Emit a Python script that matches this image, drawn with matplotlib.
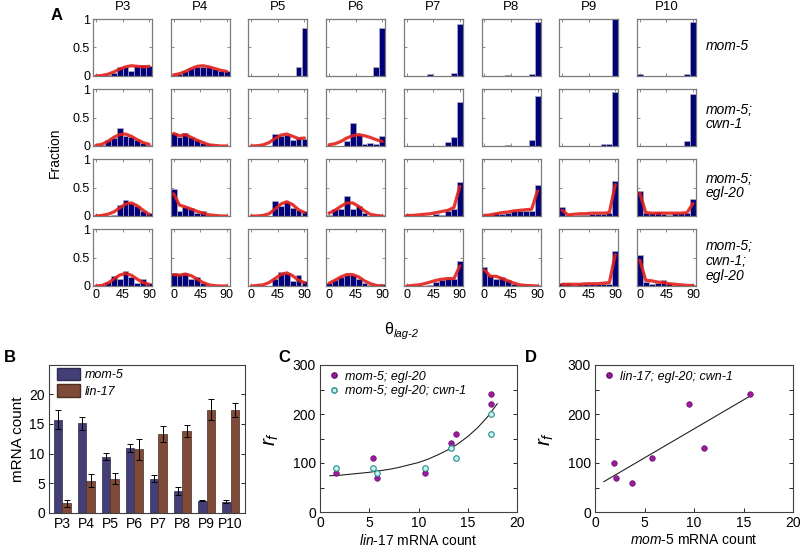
import numpy as np
import matplotlib
matplotlib.use('Agg')
import matplotlib.pyplot as plt
from matplotlib.patches import Patch
from matplotlib.lines import Line2D

plt.rcParams['font.family'] = ['Liberation Sans', 'DejaVu Sans']
plt.rcParams['mathtext.fontset'] = 'custom'
plt.rcParams['mathtext.rm'] = 'Liberation Sans'
plt.rcParams['mathtext.it'] = 'Liberation Sans:italic'

# ---------------- data ----------------
positions = ['P3', 'P4', 'P5', 'P6', 'P7', 'P8', 'P9', 'P10']
genotypes = ['mom-5', 'mom-5;\ncwn-1', 'mom-5;\negl-20', 'mom-5;\ncwn-1;\negl-20']
angle_bins = [0, 10, 20, 30, 40, 50, 60, 70, 80, 90]

frac_mom5 = [
    [0, 0, 0.01, 0.05, 0.15, 0.15, 0.09, 0.17, 0.20, 0.18],
    [0.02, 0.04, 0.08, 0.14, 0.16, 0.16, 0.16, 0.13, 0.09, 0.09],
    [0, 0, 0, 0, 0, 0, 0, 0, 0.16, 0.84],
    [0, 0, 0, 0, 0, 0, 0, 0, 0.16, 0.84],
    [0, 0, 0, 0, 0.03, 0, 0, 0, 0.06, 0.91],
    [0, 0, 0, 0, 0.02, 0, 0, 0, 0.03, 0.95],
    [0, 0, 0, 0, 0, 0, 0, 0, 0, 1.0],
    [0.03, 0, 0, 0, 0, 0, 0, 0, 0.03, 0.94],
]
fit_mom5 = [
    [0.0, 0.01, 0.03, 0.07, 0.12, 0.16, 0.18, 0.17, 0.16, 0.17],
    [0.02, 0.04, 0.08, 0.13, 0.17, 0.18, 0.16, 0.13, 0.10, 0.08],
    None, None, None, None, None, None,
]
frac_mom5_cwn1 = [
    [0, 0.02, 0.10, 0.14, 0.32, 0.17, 0.15, 0.10, 0.06, 0.02],
    [0.23, 0.16, 0.22, 0.16, 0.11, 0.06, 0.03, 0, 0, 0],
    [0, 0, 0, 0, 0.21, 0.18, 0.20, 0.11, 0.14, 0.13],
    [0, 0, 0, 0.08, 0.40, 0.20, 0.03, 0.05, 0.04, 0.18],
    [0, 0, 0, 0, 0, 0, 0, 0.07, 0.15, 0.78],
    [0, 0, 0, 0, 0.02, 0, 0, 0, 0.11, 0.87],
    [0, 0, 0, 0, 0, 0, 0, 0.03, 0.03, 0.95],
    [0, 0, 0, 0, 0, 0, 0, 0, 0.08, 0.91],
]
fit_mom5_cwn1 = [
    [0.01, 0.03, 0.08, 0.15, 0.20, 0.21, 0.17, 0.11, 0.06, 0.03],
    [0.22, 0.18, 0.20, 0.15, 0.10, 0.06, 0.02, 0.01, 0, 0],
    [0, 0.005, 0.02, 0.06, 0.13, 0.19, 0.21, 0.17, 0.13, 0.14],
    [0.02, 0.04, 0.08, 0.14, 0.18, 0.20, 0.18, 0.15, 0.11, 0.08],
    None, None, None, None,
]
frac_mom5_egl20 = [
    [0, 0, 0, 0.02, 0.20, 0.28, 0.22, 0.17, 0.08, 0.05],
    [0.47, 0.09, 0.16, 0.14, 0.05, 0.08, 0, 0, 0, 0],
    [0, 0, 0, 0, 0.27, 0.17, 0.24, 0.14, 0.10, 0.08],
    [0.02, 0.12, 0.13, 0.35, 0.13, 0.17, 0.05, 0, 0, 0.02],
    [0.02, 0, 0, 0, 0, 0.03, 0.02, 0.08, 0.12, 0.59],
    [0.02, 0.02, 0.06, 0.04, 0.06, 0.08, 0.08, 0.08, 0.08, 0.54],
    [0.15, 0.01, 0, 0.02, 0.02, 0.04, 0.04, 0.04, 0.05, 0.62],
    [0.43, 0.06, 0.05, 0.07, 0.03, 0.02, 0.05, 0.05, 0.05, 0.30],
]
fit_mom5_egl20 = [
    [0.0, 0.01, 0.03, 0.07, 0.14, 0.21, 0.23, 0.18, 0.10, 0.03],
    [0.39, 0.19, 0.16, 0.12, 0.08, 0.05, 0.02, 0.01, 0, 0],
    [0, 0, 0.01, 0.04, 0.12, 0.21, 0.25, 0.20, 0.11, 0.06],
    [0.05, 0.10, 0.17, 0.23, 0.23, 0.17, 0.09, 0.03, 0.01, 0],
    [0.01, 0.01, 0.02, 0.03, 0.04, 0.06, 0.08, 0.10, 0.15, 0.52],
    [0.01, 0.02, 0.04, 0.06, 0.07, 0.09, 0.10, 0.11, 0.12, 0.44],
    [0.10, 0.02, 0.03, 0.04, 0.04, 0.05, 0.05, 0.05, 0.06, 0.55],
    [0.40, 0.06, 0.05, 0.05, 0.05, 0.05, 0.05, 0.05, 0.06, 0.22],
]
frac_mom5_cwn1_egl20 = [
    [0, 0.02, 0.07, 0.18, 0.12, 0.27, 0.15, 0.06, 0.12, 0.06],
    [0.22, 0.21, 0.22, 0.13, 0.15, 0.05, 0, 0, 0, 0],
    [0, 0.01, 0, 0, 0.12, 0.25, 0.23, 0.08, 0.20, 0.08],
    [0.05, 0.10, 0.16, 0.20, 0.19, 0.13, 0.06, 0.01, 0, 0.03],
    [0, 0, 0, 0, 0.02, 0.07, 0.10, 0.12, 0.13, 0.43],
    [0.33, 0.20, 0.13, 0.15, 0.11, 0.04, 0.02, 0.01, 0, 0.01],
    [0.06, 0.06, 0.02, 0.03, 0.03, 0.03, 0.04, 0.04, 0.04, 0.62],
    [0.55, 0.07, 0.03, 0.06, 0.10, 0.05, 0.02, 0.01, 0, 0.02],
]
fit_mom5_cwn1_egl20 = [
    [0, 0.01, 0.05, 0.12, 0.19, 0.22, 0.19, 0.12, 0.06, 0.03],
    [0.20, 0.19, 0.21, 0.18, 0.12, 0.06, 0.02, 0.005, 0, 0],
    [0, 0.01, 0.02, 0.06, 0.13, 0.20, 0.23, 0.18, 0.10, 0.06],
    [0.05, 0.10, 0.16, 0.20, 0.20, 0.16, 0.09, 0.04, 0.01, 0],
    [0, 0.01, 0.02, 0.04, 0.07, 0.10, 0.12, 0.13, 0.13, 0.35],
    [0.28, 0.17, 0.17, 0.13, 0.09, 0.05, 0.02, 0.01, 0.005, 0],
    [0.03, 0.03, 0.03, 0.03, 0.04, 0.04, 0.04, 0.05, 0.06, 0.55],
    [0.45, 0.10, 0.09, 0.07, 0.06, 0.04, 0.03, 0.02, 0.01, 0.01],
]

# panel B
mom5_count = [15.7, 15.1, 9.5, 11.0, 5.8, 3.7, 2.1, 1.9]
mom5_err = [1.6, 1.1, 0.6, 0.7, 0.6, 0.7, 0.15, 0.25]
lin17_count = [1.6, 5.4, 5.8, 10.7, 13.3, 13.8, 17.4, 17.4]
lin17_err = [0.6, 1.1, 1.0, 1.8, 1.4, 1.0, 1.8, 1.2]

# panel C
rf_mom5_egl20 = [80, 110, 70, 80, 140, 160, 220, 240]
rf_mom5_egl20_cwn1 = [90, 90, 80, 90, 130, 110, 200, 160]
fitC_x = [1, 2, 3, 4, 5, 6, 7, 8, 9, 10, 11, 12, 13, 14, 15, 16, 17, 18]
fitC_y = [74, 75, 77, 79, 81, 84, 87, 91, 96, 101, 108, 117, 127, 139, 154, 172, 194, 221]

# panel D
mom5_count_D = [1.9, 2.1, 3.7, 5.8, 9.5, 11.0, 15.7]
rf_lin17_egl20_cwn1 = [100, 70, 60, 110, 220, 130, 240]
fitD_x = [0.9, 15.7]
fitD_y = [62, 237]

# ---------------- figure ----------------
W, H = 800, 547
fig = plt.figure(figsize=(8, 5.47), dpi=100)


def add_ax(l, t, w, h):
    return fig.add_axes([l / W, 1 - (t + h) / H, w / W, h / H])


frac_rows = [frac_mom5, frac_mom5_cwn1, frac_mom5_egl20, frac_mom5_cwn1_egl20]
fit_rows = [fit_mom5, fit_mom5_cwn1, fit_mom5_egl20, fit_mom5_cwn1_egl20]

col_left = [93 + 77.7 * c for c in range(8)]
row_top = [19 + 70 * r for r in range(4)]
pw, ph = 59, 57
frame_col = '#7a7a7a'

for r in range(4):
    for c in range(8):
        ax = add_ax(col_left[c], row_top[r], pw, ph)
        ax.bar(angle_bins, frac_rows[r][c], width=10, color='#00007a',
               edgecolor='#b0b0c0', linewidth=0.5, zorder=2)
        if fit_rows[r][c] is not None:
            ax.plot(angle_bins, fit_rows[r][c], color='#e3211c', lw=2.3,
                    alpha=0.9, solid_joinstyle='round', solid_capstyle='round', zorder=3)
        ax.set_xlim(-5, 95)
        ax.set_ylim(0, 1)
        ax.set_xticks([0, 45, 90])
        ax.set_yticks([0, 0.5, 1])
        ax.set_yticklabels(['0', '0.5', '1'])
        ax.tick_params(direction='in', top=True, right=True, length=2.5,
                       width=0.6, color=frame_col, labelsize=9, pad=2)
        for s in ax.spines.values():
            s.set_color(frame_col)
            s.set_linewidth(0.9)
        if c != 0:
            ax.set_yticklabels([])
        if r != 3:
            ax.set_xticklabels([])
        if r == 0:
            fig.text((col_left[c] + pw / 2) / W, 1 - 7 / H, positions[c],
                     ha='center', va='center', fontsize=9.5)
    centers = [46, 117, 186, 261]
    fig.text(706 / W, 1 - centers[r] / H, genotypes[r], ha='left', va='center',
             fontsize=10, style='italic', linespacing=1.05)

fig.text(57 / W, 1 - 15 / H, 'A', ha='center', va='center', fontsize=12, fontweight='bold')
fig.text(55 / W, 1 - 153 / H, 'Fraction', ha='center', va='center', fontsize=10, rotation=90)
fig.text(389 / W, 1 - 329 / H, 'θ', ha='center', va='center', fontsize=11.5)
fig.text(394 / W, 1 - 334 / H, 'lag-2', ha='left', va='center', fontsize=8, style='italic')

# ---------------- panel B ----------------
axB = add_ax(49, 364.5, 196, 148.5)
x = np.arange(len(positions))
bw = 0.36
mom5_col = '#433e75'
lin17_col = '#7e4b38'
axB.bar(x - bw / 2, mom5_count, bw, color=mom5_col, edgecolor='#2c2a50', linewidth=0.5,
        yerr=mom5_err, error_kw=dict(ecolor='black', elinewidth=0.7, capsize=2, capthick=0.7))
axB.bar(x + bw / 2, lin17_count, bw, color=lin17_col, edgecolor='#4e2e22', linewidth=0.5,
        yerr=lin17_err, error_kw=dict(ecolor='black', elinewidth=0.7, capsize=2, capthick=0.7))
axB.set_xlim(-0.55, 7.6)
axB.set_ylim(0, 25)
axB.set_yticks([0, 5, 10, 15, 20])
axB.set_xticks(x)
axB.set_xticklabels(positions)
axB.tick_params(direction='in', top=False, right=True, length=3, width=0.6,
                labelsize=10, pad=3)
axB.tick_params(axis='x', length=0)
for s in axB.spines.values():
    s.set_color('#404040')
    s.set_linewidth(0.8)
axB.set_ylabel('mRNA count', fontsize=11, labelpad=3)
legB = axB.legend([Patch(facecolor=mom5_col, edgecolor='#2c2a50'),
                   Patch(facecolor=lin17_col, edgecolor='#4e2e22')],
                  ['mom-5', 'lin-17'], loc='upper left', bbox_to_anchor=(0.0, 1.03),
                  frameon=False, fontsize=9, handlelength=1.9, handleheight=1.2,
                  handletextpad=0.4, labelspacing=0.25, borderaxespad=0.2)
for t in legB.get_texts():
    t.set_style('italic')
fig.text(10 / W, 1 - 358 / H, 'B', ha='center', va='center', fontsize=12, fontweight='bold')


def style_scatter_axes(ax):
    ax.set_xlim(0, 20)
    ax.set_ylim(0, 300)
    ax.set_xticks([0, 5, 10, 15, 20])
    ax.set_yticks([0, 100, 200, 300])
    ax.set_yticks([50, 150, 250], minor=True)
    ax.tick_params(which='both', direction='in', top=False, right=True, length=3,
                   width=0.6, labelsize=10, pad=3)
    for s in ax.spines.values():
        s.set_color('#404040')
        s.set_linewidth(0.8)


purple = '#9a1c9e'
cyan_face = '#c6f5f0'
cyan_edge = '#2a8c8c'

# ---------------- panel C ----------------
axC = add_ax(320, 365, 197, 147)
axC.plot(fitC_x, fitC_y, color='#222222', lw=0.8, zorder=1)
axC.scatter(lin17_count, rf_mom5_egl20, s=16, color=purple, edgecolor='#6a106e',
            linewidth=0.5, zorder=3)
axC.scatter(lin17_count, rf_mom5_egl20_cwn1, s=16, color=cyan_face, edgecolor=cyan_edge,
            linewidth=0.8, zorder=3)
style_scatter_axes(axC)
axC.set_xlabel(r'$\mathit{lin}$-$\mathit{17}$ mRNA count', fontsize=10, labelpad=2)
axC.set_ylabel(r'$r_f$', fontsize=15, labelpad=8)
legC = axC.legend([Line2D([], [], ls='', marker='o', ms=3.8, color=purple, mec='#6a106e'),
                   Line2D([], [], ls='', marker='o', ms=3.8, mfc=cyan_face, mec=cyan_edge)],
                  ['mom-5; egl-20', 'mom-5; egl-20; cwn-1'], loc='upper left',
                  bbox_to_anchor=(0.0, 1.02), frameon=False, fontsize=9,
                  handlelength=0.8, handletextpad=0.5, labelspacing=0.2, borderaxespad=0.3)
for t in legC.get_texts():
    t.set_style('italic')
fig.text(284 / W, 1 - 358 / H, 'C', ha='center', va='center', fontsize=12, fontweight='bold')

# ---------------- panel D ----------------
axD = add_ax(595, 365, 198, 147)
axD.plot(fitD_x, fitD_y, color='#222222', lw=0.8, zorder=1)
axD.scatter(mom5_count_D, rf_lin17_egl20_cwn1, s=16, color=purple, edgecolor='#6a106e',
            linewidth=0.5, zorder=3)
style_scatter_axes(axD)
axD.set_xlabel(r'$\mathit{mom}$-$\mathit{5}$ mRNA count', fontsize=10, labelpad=2)
axD.set_ylabel(r'$r_f$', fontsize=15, labelpad=8)
legD = axD.legend([Line2D([], [], ls='', marker='o', ms=3.8, color=purple, mec='#6a106e')],
                  ['lin-17; egl-20; cwn-1'], loc='upper left', bbox_to_anchor=(0.0, 1.02),
                  frameon=False, fontsize=9, handlelength=0.8, handletextpad=0.5,
                  borderaxespad=0.3)
for t in legD.get_texts():
    t.set_style('italic')
fig.text(531 / W, 1 - 358 / H, 'D', ha='center', va='center', fontsize=12, fontweight='bold')

fig.savefig('out.png', dpi=100)
